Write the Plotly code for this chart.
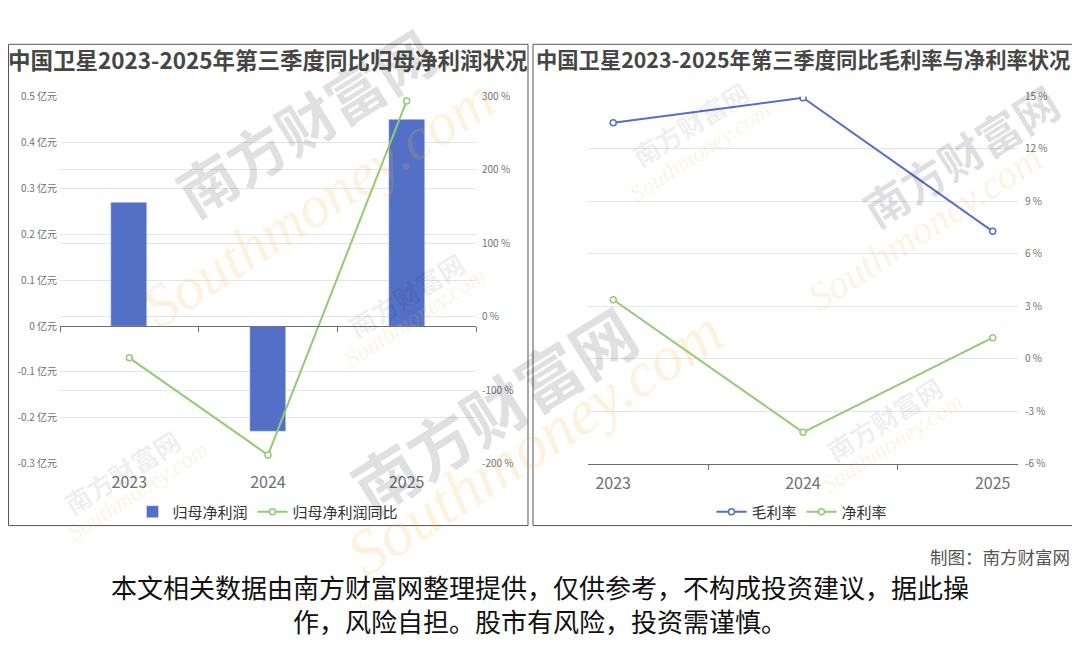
import plotly.graph_objects as go

# ---------------- data ----------------
years = ["2023", "2024", "2025"]
net_profit = [0.27, -0.23, 0.45]          # 归母净利润 (亿元)
net_profit_yoy = [-55.8, -188.0, 294.0]   # 归母净利润同比 (%)
gross_margin = [13.5, 14.93, 7.29]        # 毛利率 (%)
net_margin = [3.38, -4.2, 1.21]           # 净利率 (%)

left_ticks = [-0.3, -0.2, -0.1, 0, 0.1, 0.2, 0.3, 0.4, 0.5]
left_ticktext = ["-0.3 亿元", "-0.2 亿元", "-0.1 亿元", "0 亿元", "0.1 亿元",
                 "0.2 亿元", "0.3 亿元", "0.4 亿元", "0.5 亿元"]
yoy_ticks = [-200, -100, 0, 100, 200, 300]
yoy_ticktext = ["-200 %", "-100 %", "0 %", "100 %", "200 %", "300 %"]
margin_ticks = [-6, -3, 0, 3, 6, 9, 12, 15]
margin_ticktext = ["-6 %", "-3 %", "0 %", "3 %", "6 %", "9 %", "12 %", "15 %"]

title_left = "中国卫星2023-2025年第三季度同比归母净利润状况"
title_right = "中国卫星2023-2025年第三季度同比毛利率与净利率状况"
credit = "制图：南方财富网"
disclaimer = "本文相关数据由南方财富网整理提供，仅供参考，不构成投资建议，据此操<br>作，风险自担。股市有风险，投资需谨慎。"
wm_cn = "南方财富网"
wm_en = "Southmoney.com"

# ---------------- style ----------------
PAGE_W, PAGE_H = 1080, 646
OFF = 8  # default body margin of the html page
W, H = PAGE_W - 2 * OFF, PAGE_H - 2 * OFF
BLUE = "#5470c6"
GREEN = "#91cc75"
GRID = "#e0e6f1"
AXIS = "#6e7079"
FONT = "Noto Sans CJK SC"


def px_x(v):
    return (v - OFF) / W


def px_y(v):
    return 1 - (v - OFF) / H


ydom = [px_y(466.7), px_y(90.5)]
left_dom = [px_x(60), px_x(476)]
right_dom = [px_x(588), px_x(1018)]
left_range = [-0.3, 0.5]
zero_pos = ydom[0] + (0 - left_range[0]) / (left_range[1] - left_range[0]) * (ydom[1] - ydom[0])

fig = go.Figure()

fig.add_trace(go.Bar(
    x=years, y=net_profit, name="归母净利润", marker_color=BLUE,
    width=0.26, xaxis="x", yaxis="y", legend="legend"))
fig.add_trace(go.Scatter(
    x=years, y=net_profit_yoy, name="归母净利润同比", mode="lines+markers",
    line=dict(color=GREEN, width=2),
    marker=dict(symbol="circle", size=6, color="white", line=dict(color=GREEN, width=1.5)),
    xaxis="x", yaxis="y2", legend="legend"))
# helper trace for the zero-level category axis
fig.add_trace(go.Scatter(
    x=years, y=[None, None, None], xaxis="x3", yaxis="y", showlegend=False,
    hoverinfo="skip", mode="markers"))

fig.add_trace(go.Scatter(
    x=years, y=gross_margin, name="毛利率", mode="lines+markers",
    line=dict(color=BLUE, width=2),
    marker=dict(symbol="circle", size=6, color="white", line=dict(color=BLUE, width=1.5)),
    xaxis="x2", yaxis="y3", legend="legend2"))
fig.add_trace(go.Scatter(
    x=years, y=net_margin, name="净利率", mode="lines+markers",
    line=dict(color=GREEN, width=2),
    marker=dict(symbol="circle", size=6, color="white", line=dict(color=GREEN, width=1.5)),
    xaxis="x2", yaxis="y3", legend="legend2"))

tickfont_small = dict(family=FONT, size=10, color=AXIS)
tickfont_cat = dict(family=FONT, size=16, color=AXIS)

fig.update_layout(
    width=W, height=H,
    margin=dict(l=0, r=0, t=0, b=0),
    paper_bgcolor="white", plot_bgcolor="rgba(0,0,0,0)",
    font=dict(family=FONT, color="#333"),
    bargap=0,
    xaxis=dict(domain=left_dom, anchor="y", type="category", showline=False,
               ticks="", showgrid=False, tickfont=tickfont_cat, ticklabelstandoff=7),
    xaxis3=dict(domain=left_dom, overlaying="x", anchor="free", position=zero_pos,
                type="category", showline=True, linecolor=AXIS, linewidth=1,
                ticks="outside", tickson="boundaries", ticklen=5, tickcolor=AXIS,
                showticklabels=False, showgrid=False, matches="x"),
    yaxis=dict(domain=ydom, anchor="x", range=left_range, tickvals=left_ticks,
               ticktext=left_ticktext, tickfont=tickfont_small, showgrid=True,
               gridcolor=GRID, zeroline=False, showline=False, ticks="",
               ticklabelstandoff=2),
    yaxis2=dict(overlaying="y", side="right", anchor="x", range=[-200, 300],
                tickvals=yoy_ticks, ticktext=yoy_ticktext, tickfont=tickfont_small,
                showgrid=True, gridcolor=GRID, zeroline=False, showline=False,
                ticks="", ticklabelstandoff=5),
    xaxis2=dict(domain=right_dom, anchor="y3", type="category", showline=True,
                linecolor=AXIS, linewidth=1, ticks="outside", tickson="boundaries",
                ticklen=5, tickcolor=AXIS, showgrid=False, tickfont=tickfont_cat,
                ticklabelstandoff=5),
    yaxis3=dict(domain=ydom, anchor="x2", side="right", range=[-6, 15],
                tickvals=margin_ticks, ticktext=margin_ticktext,
                tickfont=tickfont_small, showgrid=True, gridcolor=GRID,
                zeroline=False, showline=False, ticks="", ticklabelstandoff=6),
    legend=dict(orientation="h", x=px_x(268), y=px_y(516), xanchor="center",
                yanchor="middle", font=dict(family=FONT, size=15, color="#333"),
                bgcolor="rgba(0,0,0,0)"),
    legend2=dict(orientation="h", x=px_x(802), y=px_y(516), xanchor="center",
                 yanchor="middle", font=dict(family=FONT, size=15, color="#333"),
                 bgcolor="rgba(0,0,0,0)"),
    showlegend=True,
)

# watermarks (decorative, drawn on top like in the reference)
GRAY = "rgba(0,0,0,0.12)"
GRAY_SMALL = "rgba(0,0,0,0.08)"
ORANGE = "rgba(252,178,60,0.17)"
ORANGE_SMALL = "rgba(252,178,60,0.16)"
wm_big = [  # (cn_x, cn_y, cn_size, en_x, en_y, en_size)
    (305, 116, 58, 318, 200, 60),
    (493, 410, 64, 535, 445, 64),
    (960, 150, 44, 925, 225, 40),
]
wm_small = [
    (122, 475, 138, 495),
    (406, 293, 415, 316),
    (690, 118, 700, 147),
    (884, 420, 892, 445),
]
for cx, cy, cs, ex, ey, es in wm_big:
    fig.add_annotation(text="<b>" + wm_cn + "</b>", xref="paper", yref="paper",
                       x=px_x(cx), y=px_y(cy), xanchor="center", yanchor="middle",
                       showarrow=False, textangle=-32,
                       font=dict(family=FONT, size=cs, color=GRAY))
    fig.add_annotation(text="<i>" + wm_en + "</i>", xref="paper", yref="paper",
                       x=px_x(ex), y=px_y(ey), xanchor="center", yanchor="middle",
                       showarrow=False, textangle=-33,
                       font=dict(family="Liberation Serif", size=es, color=ORANGE))
for cx, cy, ex, ey in wm_small:
    fig.add_annotation(text="<b>" + wm_cn + "</b>", xref="paper", yref="paper",
                       x=px_x(cx), y=px_y(cy), xanchor="center", yanchor="middle",
                       showarrow=False, textangle=-32,
                       font=dict(family=FONT, size=26, color=GRAY_SMALL))
    fig.add_annotation(text="<i>" + wm_en + "</i>", xref="paper", yref="paper",
                       x=px_x(ex), y=px_y(ey), xanchor="center", yanchor="middle",
                       showarrow=False, textangle=-33,
                       font=dict(family="Liberation Serif", size=24, color=ORANGE_SMALL))

# panel frames
fig.add_shape(type="rect", xref="paper", yref="paper",
              x0=px_x(8.5), x1=px_x(528), y0=px_y(530), y1=px_y(37),
              line=dict(color="#555", width=1), fillcolor="rgba(0,0,0,0)", layer="above")
fig.add_shape(type="rect", xref="paper", yref="paper",
              x0=px_x(533), x1=px_x(1073), y0=px_y(530), y1=px_y(37),
              line=dict(color="#555", width=1), fillcolor="rgba(0,0,0,0)", layer="above")

# titles
fig.add_annotation(text="<b>" + title_left + "</b>", xref="paper", yref="paper",
                   x=px_x(268), y=px_y(52), xanchor="center", yanchor="middle",
                   showarrow=False, font=dict(family=FONT, size=22.5, color="#464646"))
fig.add_annotation(text="<b>" + title_right + "</b>", xref="paper", yref="paper",
                   x=px_x(803), y=px_y(52), xanchor="center", yanchor="middle",
                   showarrow=False, font=dict(family=FONT, size=21.3, color="#464646"))

# credit & disclaimer
fig.add_annotation(text=credit, xref="paper", yref="paper", x=px_x(1072), y=px_y(562),
                   xanchor="right", yanchor="middle", showarrow=False,
                   font=dict(family=FONT, size=17.5, color="#555"))
fig.add_annotation(text=disclaimer, xref="paper", yref="paper", x=px_x(540), y=px_y(610),
                   xanchor="center", yanchor="middle", showarrow=False, align="center",
                   font=dict(family=FONT, size=26, color="#111"))

fig.write_html("out.html")
